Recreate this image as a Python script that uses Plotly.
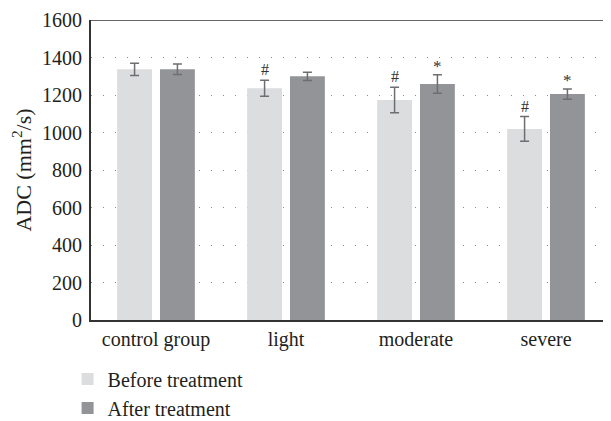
import plotly.graph_objects as go

categories = ["control group", "light", "moderate", "severe"]
before_vals = [1337, 1236, 1173, 1019]
before_err = [33, 43, 68, 66]
after_vals = [1337, 1300, 1259, 1205]
after_err = [28, 22, 49, 27]
before_marks = ["", "#", "#", "#"]
after_marks = ["", "", "*", "*"]
y_ticks = [0, 200, 400, 600, 800, 1000, 1200, 1400, 1600]

FONT = "Liberation Serif"
TXT = "#231f20"
ERRC = "#6d6e71"
FS = 20

fig = go.Figure()
fig.add_trace(go.Bar(
    name="Before treatment", x=categories, y=before_vals,
    marker=dict(color="#dcdddf", line=dict(width=0)),
    error_y=dict(type="data", array=before_err, color=ERRC, thickness=1.5, width=4.5),
))
fig.add_trace(go.Bar(
    name="After treatment", x=categories, y=after_vals,
    marker=dict(color="#939498", line=dict(width=0)),
    error_y=dict(type="data", array=after_err, color=ERRC, thickness=1.5, width=4.5),
))

# significance markers
bar_shift = 21.5
for i, c in enumerate(categories):
    if before_marks[i]:
        fig.add_annotation(x=c, y=before_vals[i] + before_err[i], xref="x", yref="y",
                           text=before_marks[i], showarrow=False, xshift=-bar_shift,
                           yanchor="bottom", yshift=0,
                           font=dict(family=FONT, size=16, color="#333"))
    if after_marks[i]:
        fig.add_annotation(x=c, y=after_vals[i] + after_err[i], xref="x", yref="y",
                           text=after_marks[i], showarrow=False, xshift=bar_shift,
                           yanchor="bottom", yshift=-3,
                           font=dict(family=FONT, size=17, color="#333"))

# top border line
fig.add_shape(type="line", xref="paper", yref="y", x0=0, x1=1, y0=1600, y1=1600,
              line=dict(color="#333", width=1.5))

fig.update_layout(
    width=603, height=413,
    margin=dict(l=83, r=0, t=12, b=101, autoexpand=False),
    paper_bgcolor="white", plot_bgcolor="white",
    barmode="group", bargap=0.341, bargroupgap=0.186,
    font=dict(family=FONT, size=FS, color=TXT),
    showlegend=True,
    legend=dict(orientation="v", x=-0.045, xanchor="left", y=-0.132, yanchor="top",
                font=dict(family=FONT, size=FS, color=TXT), traceorder="normal",
                itemwidth=30, bgcolor="rgba(0,0,0,0)"),
    xaxis=dict(showline=True, linecolor="#333", linewidth=2, ticks="",
               showgrid=False, tickfont=dict(family=FONT, size=FS, color=TXT),
               range=[-0.5, 3.5], automargin=False),
    yaxis=dict(range=[0, 1600], tickvals=y_ticks, showline=True, linecolor="#333",
               linewidth=2, ticks="", showgrid=True, gridcolor="#888", gridwidth=1,
               griddash="1px,11px", zeroline=False, ticklabelstandoff=3,
               automargin=False,
               tickfont=dict(family=FONT, size=FS, color=TXT),
               title=dict(text="ADC (mm<sup>2</sup>/s)", font=dict(family=FONT, size=22, color=TXT),
                          standoff=5)),
)

fig.write_html("out.html")
